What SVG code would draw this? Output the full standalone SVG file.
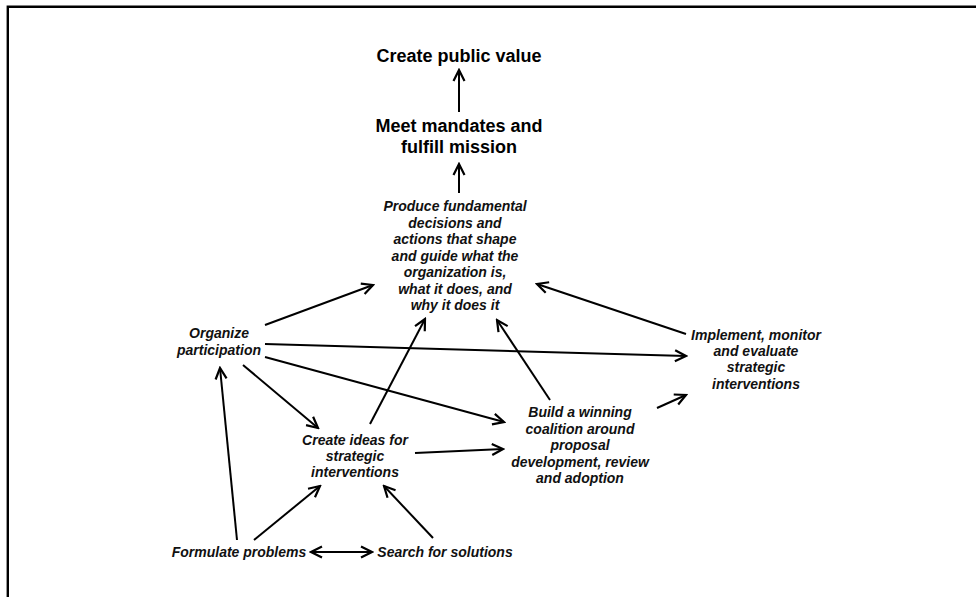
<svg xmlns="http://www.w3.org/2000/svg" width="976" height="597" viewBox="0 0 976 597">
  <defs>
    <marker id="arrow" viewBox="0 0 14 14" refX="12" refY="7" markerWidth="14" markerHeight="14" markerUnits="userSpaceOnUse" orient="auto-start-reverse">
      <path d="M1,1.5 L12,7 L1,12.5" fill="none" stroke="#000" stroke-width="2.2" stroke-linejoin="miter"/>
    </marker>
    <style>
      .title { font-family: "Liberation Sans", Arial, sans-serif; font-weight: bold; font-size: 18px; fill: #000; text-anchor: middle; }
      .lbl { font-family: "Liberation Sans", Arial, sans-serif; font-weight: bold; font-style: italic; font-size: 14px; fill: #111; text-anchor: middle; }
      .edge { stroke: #000; stroke-width: 2; fill: none; marker-end: url(#arrow); }
      .both { marker-start: url(#arrow); }
    </style>
  </defs>

  <rect width="976" height="597" fill="#fff"/>
  <!-- outer frame (only top and left edges visible) -->
  <path d="M7.8,600 L7.8,6.8 L980,6.8" fill="none" stroke="#000" stroke-width="2.4"/>

  <g id="create-public-value">
    <text class="title" x="459" y="62">Create public value</text>
  </g>

  <g id="meet-mandates">
    <text class="title" x="459" y="132">Meet mandates and</text>
    <text class="title" x="459" y="153">fulfill mission</text>
  </g>

  <g id="produce-decisions">
    <text class="lbl" x="455" y="211">Produce fundamental</text>
    <text class="lbl" x="455" y="227.5">decisions and</text>
    <text class="lbl" x="455" y="244">actions that shape</text>
    <text class="lbl" x="455" y="260.5">and guide what the</text>
    <text class="lbl" x="455" y="277">organization is,</text>
    <text class="lbl" x="455" y="293.5">what it does, and</text>
    <text class="lbl" x="455" y="310">why it does it</text>
  </g>

  <g id="organize-participation">
    <text class="lbl" x="219" y="338">Organize</text>
    <text class="lbl" x="219" y="355">participation</text>
  </g>

  <g id="implement-monitor">
    <text class="lbl" x="756" y="339.5">Implement, monitor</text>
    <text class="lbl" x="756" y="356">and evaluate</text>
    <text class="lbl" x="756" y="372">strategic</text>
    <text class="lbl" x="756" y="388.5">interventions</text>
  </g>

  <g id="build-coalition">
    <text class="lbl" x="580" y="417">Build a winning</text>
    <text class="lbl" x="580" y="434">coalition around</text>
    <text class="lbl" x="580" y="450">proposal</text>
    <text class="lbl" x="580" y="466.5">development, review</text>
    <text class="lbl" x="580" y="483">and adoption</text>
  </g>

  <g id="create-ideas">
    <text class="lbl" x="355" y="445">Create ideas for</text>
    <text class="lbl" x="355" y="461">strategic</text>
    <text class="lbl" x="355" y="477">interventions</text>
  </g>

  <g id="formulate-problems">
    <text class="lbl" x="239" y="557">Formulate problems</text>
  </g>

  <g id="search-solutions">
    <text class="lbl" x="445" y="557">Search for solutions</text>
  </g>

  <g id="connectors">
    <line class="edge" x1="459" y1="112" x2="459" y2="70"/>
    <line class="edge" x1="459" y1="193" x2="459" y2="164"/>
    <line class="edge" x1="265" y1="325" x2="373" y2="285"/>
    <line class="edge" x1="686" y1="334" x2="537" y2="284"/>
    <line class="edge" x1="265" y1="344" x2="686" y2="356"/>
    <line class="edge" x1="265" y1="357" x2="504" y2="422"/>
    <line class="edge" x1="243" y1="365" x2="318" y2="428"/>
    <line class="edge" x1="237" y1="540" x2="220" y2="368"/>
    <line class="edge" x1="254" y1="540" x2="320" y2="486"/>
    <line class="edge" x1="433" y1="538" x2="384" y2="486"/>
    <line class="edge both" x1="311" y1="552" x2="372" y2="552"/>
    <line class="edge" x1="370" y1="424" x2="425" y2="319"/>
    <line class="edge" x1="550" y1="400" x2="497" y2="320"/>
    <line class="edge" x1="415" y1="453" x2="503" y2="449"/>
    <line class="edge" x1="657" y1="408" x2="686" y2="395"/>
  </g>
</svg>
